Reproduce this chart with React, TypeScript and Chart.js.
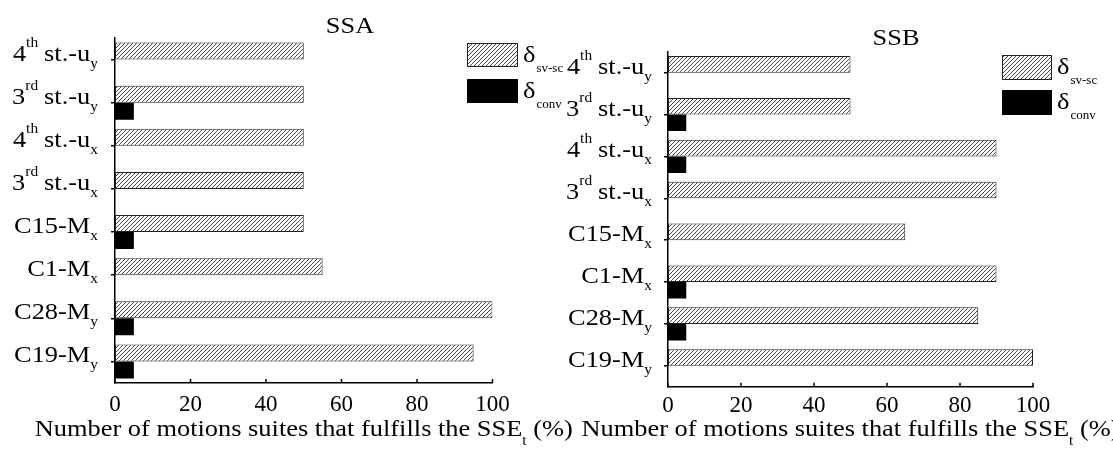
import React, { useEffect, useRef } from "react";
import { Chart, registerables } from "chart.js";

Chart.register(...registerables);

// ---------- data ----------
const categories = ["4th st.-uy", "3rd st.-uy", "4th st.-ux", "3rd st.-ux", "C15-Mx", "C1-Mx", "C28-My", "C19-My"];
const labelMain = ["4", "3", "4", "3", "C15-M", "C1-M", "C28-M", "C19-M"];
const labelSup = ["th", "rd", "th", "rd", "", "", "", ""];
const labelMid = ["st.-u", "st.-u", "st.-u", "st.-u", "", "", "", ""];
const labelSub = ["y", "y", "x", "x", "x", "x", "y", "y"];

const ssaSvSc = [50, 50, 50, 50, 50, 55, 100, 95];
const ssaConv = [0, 5, 0, 0, 5, 0, 5, 5];
const ssbSvSc = [50, 50, 90, 90, 65, 90, 85, 100];
const ssbConv = [0, 5, 5, 0, 0, 5, 5, 0];

const xTickStep = 20;
const xMin = 0;
const xMax = 100;

const legendSymbol = ["δ", "δ"];
const legendSub = ["sv-sc", "conv"];
const axisTitleParts = ["Number of motions suites that fulfills the SSE", "t", " (%)"];
const panelTitles = ["SSA", "SSB"];

// ---------- layout ----------
const W = 1113;
const H = 450;
const FONT = "'Liberation Serif', 'Times New Roman', Tinos, serif";
const STRETCH = 1.1;

type Run = { text: string; size: number; dy?: number; gap?: number; stretch?: number };

function drawRuns(ctx: CanvasRenderingContext2D, runs: Run[], x: number, baseline: number, align: "left" | "right" | "center") {
  const widths = runs.map((r) => {
    ctx.font = `${r.size}px ${FONT}`;
    return ctx.measureText(r.text).width * (r.stretch || STRETCH) + (r.gap || 0);
  });
  const total = widths.reduce((a, b) => a + b, 0);
  let cx = align === "left" ? x : align === "right" ? x - total : x - total / 2;
  ctx.textAlign = "left";
  ctx.textBaseline = "alphabetic";
  runs.forEach((r, i) => {
    ctx.font = `${r.size}px ${FONT}`;
    ctx.save();
    ctx.translate(cx + (r.gap || 0), baseline + (r.dy || 0));
    ctx.scale(r.stretch || STRETCH, 1);
    ctx.fillText(r.text, 0, 0);
    ctx.restore();
    cx += widths[i];
  });
}

type Spec = {
  title: string;
  sv: number[];
  conv: number[];
  left: number;
  right: number;
  top: number;
  bottom: number;
  titleX: number;
  titleY: number;
  tickPad: number;
  axisTitleY: number;
  labelGap: number;
  legX: number;
  legW: number;
  legH: number;
  legY: number[];
};

const specs: Spec[] = [
  {
    title: panelTitles[0], sv: ssaSvSc, conv: ssaConv,
    left: 115, right: 492.5, top: 38, bottom: 383,
    titleX: 350, titleY: 33, tickPad: 8, axisTitleY: 436, labelGap: 17,
    legX: 467, legW: 51, legH: 24, legY: [43, 79],
  },
  {
    title: panelTitles[1], sv: ssbSvSc, conv: ssbConv,
    left: 668, right: 1033, top: 51.7, bottom: 386.7,
    titleX: 896, titleY: 45, tickPad: 5, axisTitleY: 436, labelGap: 16,
    legX: 1002, legW: 50, legH: 25, legY: [55, 90],
  },
];

function makeHatch(): CanvasPattern | string {
  const c = document.createElement("canvas");
  c.width = 4;
  c.height = 4;
  const g = c.getContext("2d");
  if (!g) return "#999";
  g.fillStyle = "#fff";
  g.fillRect(0, 0, 4, 4);
  g.strokeStyle = "#333";
  g.lineWidth = 0.9;
  g.beginPath();
  g.moveTo(0, 4); g.lineTo(4, 0);
  g.moveTo(-1, 1); g.lineTo(1, -1);
  g.moveTo(3, 5); g.lineTo(5, 3);
  g.stroke();
  return g.createPattern(c, "repeat") || "#999";
}

function annotPlugin(p: Spec, hatch: CanvasPattern | string) {
  return {
    id: "annot" + p.title,
    afterDraw(chart: any) {
      const ctx: CanvasRenderingContext2D = chart.ctx;
      const xs = chart.scales.x;
      const ys = chart.scales.y;
      const area = chart.chartArea;
      ctx.save();
      // inward x ticks
      ctx.strokeStyle = "#000";
      ctx.lineWidth = 1.5;
      xs.ticks.forEach((t: any) => {
        const px = xs.getPixelForValue(t.value);
        ctx.beginPath();
        ctx.moveTo(px, area.bottom);
        ctx.lineTo(px, area.bottom - 4);
        ctx.stroke();
      });
      ctx.fillStyle = "#000";
      // category labels
      categories.forEach((_, i) => {
        const py = ys.getPixelForTick(i);
        const runs: Run[] = [{ text: labelMain[i], size: 24 }];
        if (labelSup[i]) runs.push({ text: labelSup[i], size: 14, dy: -14 });
        if (labelMid[i]) runs.push({ text: labelMid[i], size: 24, gap: 6 });
        runs.push({ text: labelSub[i], size: 14, dy: 7 });
        drawRuns(ctx, runs, area.left - p.labelGap, py + 1, "right");
      });
      // panel title
      drawRuns(ctx, [{ text: p.title, size: 24 }], p.titleX, p.titleY, "center");
      // axis title
      drawRuns(
        ctx,
        [
          { text: axisTitleParts[0], size: 24 },
          { text: axisTitleParts[1], size: 14, dy: 9 },
          { text: axisTitleParts[2], size: 24 },
        ],
        (area.left + area.right) / 2,
        p.axisTitleY,
        "center"
      );
      // legend
      p.legY.forEach((ly, i) => {
        if (i === 0) {
          ctx.fillStyle = hatch as any;
          ctx.fillRect(p.legX, ly, p.legW, p.legH);
          ctx.strokeStyle = "#222";
          ctx.lineWidth = 1;
          ctx.strokeRect(p.legX + 0.5, ly + 0.5, p.legW - 1, p.legH - 1);
        } else {
          ctx.fillStyle = "#000";
          ctx.fillRect(p.legX, ly, p.legW, p.legH);
        }
        ctx.fillStyle = "#000";
        drawRuns(
          ctx,
          [
            { text: legendSymbol[i], size: 24 },
            { text: legendSub[i], size: 13, dy: 10, gap: 1, stretch: 1.0 },
          ],
          p.legX + p.legW + 5,
          ly + 19,
          "left"
        );
      });
      ctx.restore();
    },
  };
}

function buildChart(canvas: HTMLCanvasElement, p: Spec, hatch: CanvasPattern | string) {
  return new Chart(canvas, {
    type: "bar",
    data: {
      labels: categories,
      datasets: [
        {
          label: "δsv-sc",
          data: p.sv,
          backgroundColor: hatch as any,
          borderColor: "#222",
          borderWidth: 1,
          borderSkipped: false,
        },
        {
          label: "δconv",
          data: p.conv,
          backgroundColor: "#000",
          borderWidth: 0,
          borderSkipped: false,
        },
      ],
    },
    options: {
      indexAxis: "y",
      responsive: false,
      maintainAspectRatio: false,
      animation: false,
      devicePixelRatio: 1,
      layout: { padding: { top: p.top, left: 0, right: W - p.right, bottom: 0 } },
      datasets: { bar: { categoryPercentage: 0.79, barPercentage: 1 } },
      plugins: {
        legend: { display: false },
        title: { display: false },
        tooltip: { enabled: false },
      },
      scales: {
        x: {
          type: "linear",
          position: "bottom",
          min: xMin,
          max: xMax,
          afterFit: (s: any) => {
            s.height = H - p.bottom;
          },
          ticks: {
            stepSize: xTickStep,
            color: "#000",
            padding: p.tickPad,
            maxRotation: 0,
            autoSkip: false,
            font: { family: FONT, size: 23 },
          },
          grid: { display: false, drawOnChartArea: false, drawTicks: false },
          border: { display: true, color: "#000", width: 1.5 },
        },
        y: {
          type: "category",
          position: "left",
          afterFit: (s: any) => {
            s.width = p.left;
          },
          ticks: { display: false },
          grid: {
            display: true,
            drawOnChartArea: false,
            drawTicks: true,
            tickLength: 4,
            offset: false,
            color: "#000",
            lineWidth: 1.5,
          },
          border: { display: true, color: "#000", width: 1.5 },
        },
      },
    } as any,
    plugins: [annotPlugin(p, hatch)],
  });
}

export default function App() {
  const leftRef = useRef<HTMLCanvasElement | null>(null);
  const rightRef = useRef<HTMLCanvasElement | null>(null);

  useEffect(() => {
    const hatch = makeHatch();
    const charts: Chart[] = [];
    if (leftRef.current) charts.push(buildChart(leftRef.current, specs[0], hatch));
    if (rightRef.current) charts.push(buildChart(rightRef.current, specs[1], hatch));
    return () => {
      charts.forEach((c) => c.destroy());
    };
  }, []);

  const canvasStyle: React.CSSProperties = { position: "absolute", left: 0, top: 0, width: W, height: H };
  return (
    <div style={{ position: "absolute", left: 0, top: 0, width: W, height: H, background: "#fff" }}>
      <canvas ref={leftRef} width={W} height={H} style={canvasStyle} />
      <canvas ref={rightRef} width={W} height={H} style={canvasStyle} />
    </div>
  );
}
